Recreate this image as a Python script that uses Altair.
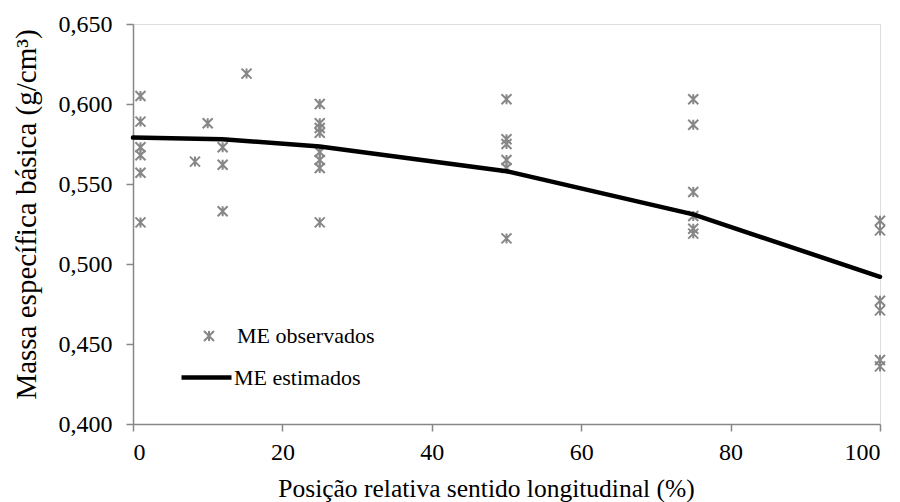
import altair as alt
import pandas as pd

# Observed values (ME observados)
obs_x = [1, 1, 1, 1, 1, 1,
         8.3, 10, 12, 12, 12, 15.2,
         25, 25, 25, 25, 25, 25, 25, 25,
         50, 50, 50, 50, 50, 50,
         75, 75, 75, 75, 75, 75,
         100, 100, 100, 100, 100, 100]
obs_y = [0.605, 0.589, 0.573, 0.568, 0.557, 0.526,
         0.564, 0.588, 0.573, 0.562, 0.533, 0.619,
         0.600, 0.588, 0.585, 0.582, 0.570, 0.565, 0.560, 0.526,
         0.603, 0.578, 0.575, 0.565, 0.560, 0.516,
         0.603, 0.587, 0.545, 0.530, 0.522, 0.519,
         0.527, 0.521, 0.477, 0.471, 0.440, 0.436]

# Estimated curve (ME estimados)
est_x = [0, 12, 25, 50, 75, 100]
est_y = [0.579, 0.578, 0.5735, 0.558, 0.531, 0.492]

obs = pd.DataFrame({"x": obs_x, "y": obs_y, "serie": "ME observados"})
est = pd.DataFrame({"x": est_x, "y": est_y, "serie": "ME estimados"})

FONT = "Liberation Serif"
GRAY = "#878787"
STAR = "M-1,-1L1,1M-1,1L1,-1M0,-1L0,1"

xscale = alt.Scale(domain=[0, 100], nice=False, zero=False)
yscale = alt.Scale(domain=[0.40, 0.65], nice=False, zero=False)

xaxis = alt.Axis(
    values=[0, 20, 40, 60, 80, 100], title="Posição relativa sentido longitudinal (%)",
    grid=False, domainColor=GRAY, domainWidth=1.5, tickColor=GRAY, tickWidth=1.5,
    tickSize=7, labelFont=FONT, labelFontSize=24, labelColor="black", labelPadding=9,
    titleFont=FONT, titleFontSize=25.5, titleFontWeight="normal", titleColor="black",
    titleX=353, titleY=72, titleBaseline="alphabetic", titleAnchor="middle",
)
yaxis = alt.Axis(
    values=[0.40, 0.45, 0.50, 0.55, 0.60, 0.65],
    labelExpr="replace(format(datum.value, '.3f'), '.', ',')",
    title="Massa específica básica (g/cm³)",
    grid=False, domainColor=GRAY, domainWidth=1.5, tickColor=GRAY, tickWidth=1.5,
    tickSize=7, labelFont=FONT, labelFontSize=24, labelColor="black", labelPadding=14,
    titleFont=FONT, titleFontSize=29, titleFontWeight="normal", titleColor="black",
    titleX=-107, titleY=190, titleAngle=270, titleBaseline="middle", titleAnchor="middle",
)

points = alt.Chart(obs).mark_point(
    shape=STAR, filled=False, stroke=GRAY, strokeWidth=2, size=100, opacity=1
).encode(
    x=alt.X("x:Q", scale=xscale, axis=xaxis),
    y=alt.Y("y:Q", scale=yscale, axis=yaxis),
    shape=alt.Shape("serie:N", scale=alt.Scale(domain=["ME observados"], range=[STAR]),
                    legend=alt.Legend(orient="none", legendX=65, legendY=301, title=None,
                                      padding=0, symbolSize=100, symbolStrokeColor=GRAY,
                                      symbolStrokeWidth=2, symbolFillColor="transparent",
                                      labelFont=FONT, labelFontSize=22, labelColor="black",
                                      labelOffset=17, labelLimit=300)),
)

line = alt.Chart(est).mark_line(color="black", strokeWidth=4.5, strokeCap="round").encode(
    x=alt.X("x:Q", scale=xscale, axis=xaxis),
    y=alt.Y("y:Q", scale=yscale, axis=yaxis),
    color=alt.Color("serie:N", scale=alt.Scale(domain=["ME estimados"], range=["black"]),
                    legend=alt.Legend(orient="none", legendX=46, legendY=326, title=None,
                                      padding=0, symbolType="stroke", symbolSize=2500,
                                      symbolStrokeWidth=4.5, labelFont=FONT, labelFontSize=22,
                                      labelColor="black", labelOffset=0, labelLimit=300)),
)

chart = alt.layer(points, line).resolve_legend(shape="independent", color="independent").properties(
    width=747, height=400,
    padding={"left": 125, "top": 16, "right": 12, "bottom": 78},
    autosize=alt.AutoSizeParams(type="none"),
).configure_view(stroke=None).configure(background="white").configure_axis(
    labelFont=FONT, titleFont=FONT
).configure_legend(labelFont=FONT)

chart.save("out.html", embed_options={"renderer": "svg", "actions": False})
